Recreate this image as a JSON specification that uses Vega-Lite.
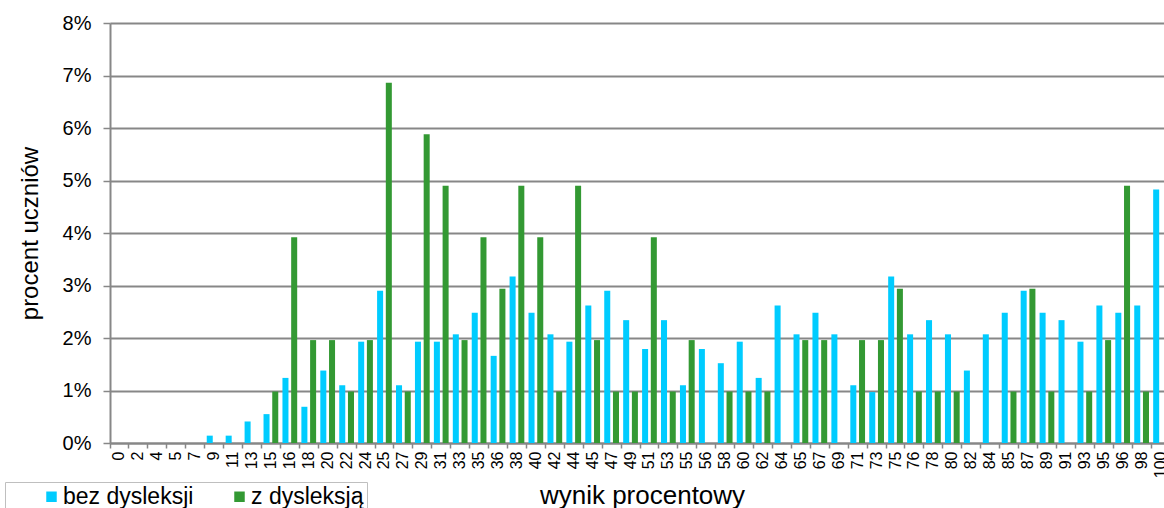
{
  "$schema": "https://vega.github.io/schema/vega-lite/v6.json",
  "width": 1060,
  "height": 420,
  "autosize": {"type": "none"},
  "padding": {"left": 110, "top": 23, "right": 0, "bottom": 65},
  "background": "white",
  "config": {
    "font": "Liberation Sans",
    "view": {"stroke": null},
    "axis": {"labelColor": "#000000", "titleColor": "#000000", "titleFontWeight": "normal"}
  },
  "data": {
    "values": [
      {"wynik": 0, "grupa": "bez dysleksji", "procent": 0}, {"wynik": 0, "grupa": "z dysleksją", "procent": 0},
      {"wynik": 2, "grupa": "bez dysleksji", "procent": 0}, {"wynik": 2, "grupa": "z dysleksją", "procent": 0},
      {"wynik": 4, "grupa": "bez dysleksji", "procent": 0}, {"wynik": 4, "grupa": "z dysleksją", "procent": 0},
      {"wynik": 5, "grupa": "bez dysleksji", "procent": 0}, {"wynik": 5, "grupa": "z dysleksją", "procent": 0},
      {"wynik": 7, "grupa": "bez dysleksji", "procent": 0}, {"wynik": 7, "grupa": "z dysleksją", "procent": 0},
      {"wynik": 9, "grupa": "bez dysleksji", "procent": 0.14}, {"wynik": 9, "grupa": "z dysleksją", "procent": 0},
      {"wynik": 11, "grupa": "bez dysleksji", "procent": 0.14}, {"wynik": 11, "grupa": "z dysleksją", "procent": 0},
      {"wynik": 13, "grupa": "bez dysleksji", "procent": 0.41}, {"wynik": 13, "grupa": "z dysleksją", "procent": 0},
      {"wynik": 15, "grupa": "bez dysleksji", "procent": 0.55}, {"wynik": 15, "grupa": "z dysleksją", "procent": 0.98},
      {"wynik": 16, "grupa": "bez dysleksji", "procent": 1.24}, {"wynik": 16, "grupa": "z dysleksją", "procent": 3.92},
      {"wynik": 18, "grupa": "bez dysleksji", "procent": 0.69}, {"wynik": 18, "grupa": "z dysleksją", "procent": 1.96},
      {"wynik": 20, "grupa": "bez dysleksji", "procent": 1.38}, {"wynik": 20, "grupa": "z dysleksją", "procent": 1.96},
      {"wynik": 22, "grupa": "bez dysleksji", "procent": 1.10}, {"wynik": 22, "grupa": "z dysleksją", "procent": 0.98},
      {"wynik": 24, "grupa": "bez dysleksji", "procent": 1.93}, {"wynik": 24, "grupa": "z dysleksją", "procent": 1.96},
      {"wynik": 25, "grupa": "bez dysleksji", "procent": 2.90}, {"wynik": 25, "grupa": "z dysleksją", "procent": 6.86},
      {"wynik": 27, "grupa": "bez dysleksji", "procent": 1.10}, {"wynik": 27, "grupa": "z dysleksją", "procent": 0.98},
      {"wynik": 29, "grupa": "bez dysleksji", "procent": 1.93}, {"wynik": 29, "grupa": "z dysleksją", "procent": 5.88},
      {"wynik": 31, "grupa": "bez dysleksji", "procent": 1.93}, {"wynik": 31, "grupa": "z dysleksją", "procent": 4.90},
      {"wynik": 33, "grupa": "bez dysleksji", "procent": 2.07}, {"wynik": 33, "grupa": "z dysleksją", "procent": 1.96},
      {"wynik": 35, "grupa": "bez dysleksji", "procent": 2.48}, {"wynik": 35, "grupa": "z dysleksją", "procent": 3.92},
      {"wynik": 36, "grupa": "bez dysleksji", "procent": 1.66}, {"wynik": 36, "grupa": "z dysleksją", "procent": 2.94},
      {"wynik": 38, "grupa": "bez dysleksji", "procent": 3.17}, {"wynik": 38, "grupa": "z dysleksją", "procent": 4.90},
      {"wynik": 40, "grupa": "bez dysleksji", "procent": 2.48}, {"wynik": 40, "grupa": "z dysleksją", "procent": 3.92},
      {"wynik": 42, "grupa": "bez dysleksji", "procent": 2.07}, {"wynik": 42, "grupa": "z dysleksją", "procent": 0.98},
      {"wynik": 44, "grupa": "bez dysleksji", "procent": 1.93}, {"wynik": 44, "grupa": "z dysleksją", "procent": 4.90},
      {"wynik": 45, "grupa": "bez dysleksji", "procent": 2.62}, {"wynik": 45, "grupa": "z dysleksją", "procent": 1.96},
      {"wynik": 47, "grupa": "bez dysleksji", "procent": 2.90}, {"wynik": 47, "grupa": "z dysleksją", "procent": 0.98},
      {"wynik": 49, "grupa": "bez dysleksji", "procent": 2.34}, {"wynik": 49, "grupa": "z dysleksją", "procent": 0.98},
      {"wynik": 51, "grupa": "bez dysleksji", "procent": 1.79}, {"wynik": 51, "grupa": "z dysleksją", "procent": 3.92},
      {"wynik": 53, "grupa": "bez dysleksji", "procent": 2.34}, {"wynik": 53, "grupa": "z dysleksją", "procent": 0.98},
      {"wynik": 55, "grupa": "bez dysleksji", "procent": 1.10}, {"wynik": 55, "grupa": "z dysleksją", "procent": 1.96},
      {"wynik": 56, "grupa": "bez dysleksji", "procent": 1.79}, {"wynik": 56, "grupa": "z dysleksją", "procent": 0},
      {"wynik": 58, "grupa": "bez dysleksji", "procent": 1.52}, {"wynik": 58, "grupa": "z dysleksją", "procent": 0.98},
      {"wynik": 60, "grupa": "bez dysleksji", "procent": 1.93}, {"wynik": 60, "grupa": "z dysleksją", "procent": 0.98},
      {"wynik": 62, "grupa": "bez dysleksji", "procent": 1.24}, {"wynik": 62, "grupa": "z dysleksją", "procent": 0.98},
      {"wynik": 64, "grupa": "bez dysleksji", "procent": 2.62}, {"wynik": 64, "grupa": "z dysleksją", "procent": 0},
      {"wynik": 65, "grupa": "bez dysleksji", "procent": 2.07}, {"wynik": 65, "grupa": "z dysleksją", "procent": 1.96},
      {"wynik": 67, "grupa": "bez dysleksji", "procent": 2.48}, {"wynik": 67, "grupa": "z dysleksją", "procent": 1.96},
      {"wynik": 69, "grupa": "bez dysleksji", "procent": 2.07}, {"wynik": 69, "grupa": "z dysleksją", "procent": 0},
      {"wynik": 71, "grupa": "bez dysleksji", "procent": 1.10}, {"wynik": 71, "grupa": "z dysleksją", "procent": 1.96},
      {"wynik": 73, "grupa": "bez dysleksji", "procent": 0.97}, {"wynik": 73, "grupa": "z dysleksją", "procent": 1.96},
      {"wynik": 75, "grupa": "bez dysleksji", "procent": 3.17}, {"wynik": 75, "grupa": "z dysleksją", "procent": 2.94},
      {"wynik": 76, "grupa": "bez dysleksji", "procent": 2.07}, {"wynik": 76, "grupa": "z dysleksją", "procent": 0.98},
      {"wynik": 78, "grupa": "bez dysleksji", "procent": 2.34}, {"wynik": 78, "grupa": "z dysleksją", "procent": 0.98},
      {"wynik": 80, "grupa": "bez dysleksji", "procent": 2.07}, {"wynik": 80, "grupa": "z dysleksją", "procent": 0.98},
      {"wynik": 82, "grupa": "bez dysleksji", "procent": 1.38}, {"wynik": 82, "grupa": "z dysleksją", "procent": 0},
      {"wynik": 84, "grupa": "bez dysleksji", "procent": 2.07}, {"wynik": 84, "grupa": "z dysleksją", "procent": 0},
      {"wynik": 85, "grupa": "bez dysleksji", "procent": 2.48}, {"wynik": 85, "grupa": "z dysleksją", "procent": 0.98},
      {"wynik": 87, "grupa": "bez dysleksji", "procent": 2.90}, {"wynik": 87, "grupa": "z dysleksją", "procent": 2.94},
      {"wynik": 89, "grupa": "bez dysleksji", "procent": 2.48}, {"wynik": 89, "grupa": "z dysleksją", "procent": 0.98},
      {"wynik": 91, "grupa": "bez dysleksji", "procent": 2.34}, {"wynik": 91, "grupa": "z dysleksją", "procent": 0},
      {"wynik": 93, "grupa": "bez dysleksji", "procent": 1.93}, {"wynik": 93, "grupa": "z dysleksją", "procent": 0.98},
      {"wynik": 95, "grupa": "bez dysleksji", "procent": 2.62}, {"wynik": 95, "grupa": "z dysleksją", "procent": 1.96},
      {"wynik": 96, "grupa": "bez dysleksji", "procent": 2.48}, {"wynik": 96, "grupa": "z dysleksją", "procent": 4.90},
      {"wynik": 98, "grupa": "bez dysleksji", "procent": 2.62}, {"wynik": 98, "grupa": "z dysleksją", "procent": 0.98},
      {"wynik": 100, "grupa": "bez dysleksji", "procent": 4.83}, {"wynik": 100, "grupa": "z dysleksją", "procent": 0}
    ]
  },
  "mark": {"type": "bar"},
  "encoding": {
    "x": {
      "field": "wynik",
      "type": "ordinal",
      "scale": {"paddingInner": 0, "paddingOuter": 0},
      "axis": {
        "title": "wynik procentowy",
        "titleFontSize": 26,
        "titleX": 532,
        "titleY": 52,
        "titleBaseline": "middle",
        "titleAlign": "center",
        "labelAngle": -90,
        "labelFontSize": 16,
        "labelPadding": 3,
        "bandPosition": 0,
        "tickSize": 5,
        "tickColor": "#878787",
        "tickWidth": 1.5,
        "domainColor": "#878787",
        "domainWidth": 2,
        "grid": false
      }
    },
    "xOffset": {
      "field": "grupa",
      "type": "nominal",
      "scale": {"paddingInner": 0.31, "paddingOuter": 0.24}
    },
    "y": {
      "field": "procent",
      "type": "quantitative",
      "scale": {"domain": [0, 8], "nice": false},
      "axis": {
        "title": "procent uczniów",
        "titleFontSize": 24,
        "titleAngle": -90,
        "titleX": -80,
        "titleY": 210,
        "titleBaseline": "middle",
        "titleAlign": "center",
        "values": [0, 1, 2, 3, 4, 5, 6, 7, 8],
        "labelExpr": "datum.value + '%'",
        "labelFontSize": 20,
        "labelPadding": 12,
        "tickSize": 7,
        "tickColor": "#878787",
        "tickWidth": 1.5,
        "domainColor": "#878787",
        "domainWidth": 2,
        "grid": true,
        "gridColor": "#878787",
        "gridWidth": 2
      }
    },
    "color": {
      "field": "grupa",
      "type": "nominal",
      "scale": {"domain": ["bez dysleksji", "z dysleksją"], "range": ["#00CCFF", "#339933"]},
      "legend": {
        "title": null,
        "orient": "none",
        "direction": "horizontal",
        "legendX": -105,
        "legendY": 459,
        "padding": 3,
        "strokeColor": "#bfbfbf",
        "fillColor": "white",
        "symbolType": "square",
        "symbolSize": 110,
        "symbolStrokeWidth": 0,
        "symbolOpacity": 1,
        "symbolOffset": 32,
        "labelOffset": 0,
        "labelFontSize": 23,
        "labelColor": "#000000",
        "columnPadding": 2
      }
    }
  }
}
